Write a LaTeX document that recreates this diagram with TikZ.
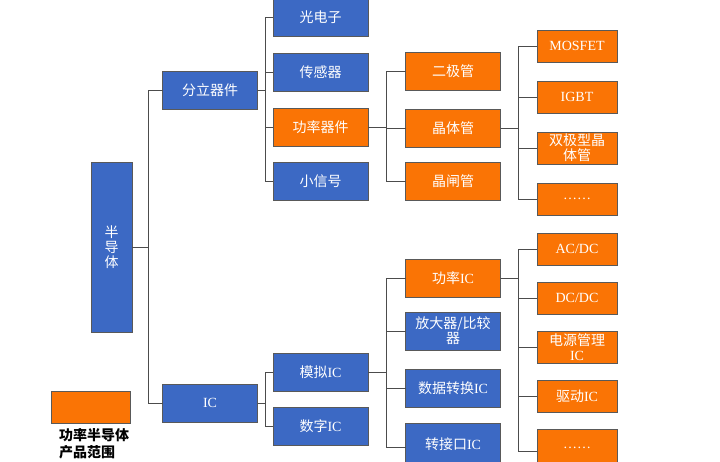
\documentclass[tikz,border=0pt]{standalone}
\usepackage{fontspec}
\setmainfont{Liberation Serif}
\newfontfamily\cjk{Noto Sans CJK SC}
\newcommand{\zh}[1]{{\cjk #1}}
\usetikzlibrary{positioning}
\definecolor{boxblue}{HTML}{3C69C4}
\definecolor{boxorange}{HTML}{FA7405}

\begin{document}
\begin{tikzpicture}[
    x=1pt, y=-1pt,
    box/.style={draw=gray!70!black, line width=0.8pt, align=center, inner sep=0pt, outer sep=0pt,
      text=white, font=\fontsize{14}{15}\selectfont, minimum width=95pt, minimum height=38pt},
    blk/.style={box, fill=boxblue},
    org/.style={box, fill=boxorange},
    leaf/.style={org, minimum width=80pt, minimum height=32pt},
    link/.style={draw=gray!60!black, line width=1pt}
  ]
    \useasboundingbox (0,0) rectangle (720,461);
    % tree
    \node[blk, minimum width=41pt, minimum height=170pt] (semi) at (111.5,247) {\zh{半}\\\zh{导}\\\zh{体}};
    \node[blk] (discrete) at (210,90) {\zh{分立器件}};
    \node[blk] (ic) at (210,403) {IC};

    \node[blk] (opto) at (320.5,17) {\zh{光电子}};
    \node[blk] (sensor) at (320.5,72) {\zh{传感器}};
    \node[org] (powerdev) at (320.5,127) {\zh{功率器件}};
    \node[blk] (smallsig) at (320.5,181) {\zh{小信号}};
    \node[blk] (analog) at (320.5,372) {\zh{模拟}IC};
    \node[blk] (digital) at (320.5,426) {\zh{数字}IC};

    \node[org] (diode) at (453,71) {\zh{二极管}};
    \node[org] (transistor) at (453,128) {\zh{晶体管}};
    \node[org] (thyristor) at (453,181) {\zh{晶闸管}};
    \node[org] (poweric) at (453,278) {\zh{功率}IC};
    \node[blk] (amp) at (453,331) {\zh{放大器/比较}\\\zh{器}};
    \node[blk] (dataconv) at (453,388) {\zh{数据转换}IC};
    \node[blk, minimum height=42pt] (iface) at (453,444) {\zh{转接口}IC};

    \node[leaf] (mosfet) at (577,46) {MOSFET};
    \node[leaf] (igbt) at (577,97) {IGBT};
    \node[leaf] (bjt) at (577,148) {\zh{双极型晶}\\\zh{体管}};
    \node[leaf] (moredev) at (577,199) {……};
    \node[leaf] (acdc) at (577,249) {AC/DC};
    \node[leaf] (dcdc) at (577,298) {DC/DC};
    \node[leaf] (pmic) at (577,347) {\zh{电源管理}\\IC};
    \node[leaf] (driver) at (577,396) {\zh{驱动}IC};
    \node[leaf, minimum height=38pt] (moreic) at (577,448) {……};

    % legend
    \node[org, minimum width=79pt, minimum height=32pt] (legend) at (90.5,407) {};
    \node[below=5pt of legend.south west, xshift=8pt, anchor=north west, align=left, inner sep=0pt,
      font=\cjk\bfseries\fontsize{14}{17}\selectfont] (legendtxt) {功率半导体\\产品范围};

    % connectors
    \foreach \c in {discrete,ic}
      \draw[link] (semi.east) -- ++(16,0) |- (\c.west);
    \foreach \c in {opto,sensor,powerdev,smallsig}
      \draw[link] (discrete.east) -- ++(8,0) |- (\c.west);
    \foreach \c in {analog,digital}
      \draw[link] (ic.east) -- ++(8,0) |- (\c.west);
    \foreach \c in {diode,transistor,thyristor}
      \draw[link] (powerdev.east) -- ++(18,0) |- (\c.west);
    \foreach \c in {poweric,amp,dataconv}
      \draw[link] (analog.east) -- ++(18,0) |- (\c.west);
    \draw[link] (analog.east) -- ++(18,0) |- ([yshift=-3pt]iface.west);
    \foreach \c in {mosfet,igbt,bjt,moredev}
      \draw[link] (transistor.east) -- ++(18,0) |- (\c.west);
    \foreach \c in {acdc,dcdc,pmic,driver}
      \draw[link] (poweric.east) -- ++(18,0) |- (\c.west);
    \draw[link] (poweric.east) -- ++(18,0) |- ([yshift=-3pt]moreic.west);
  \end{tikzpicture}
\end{document}
